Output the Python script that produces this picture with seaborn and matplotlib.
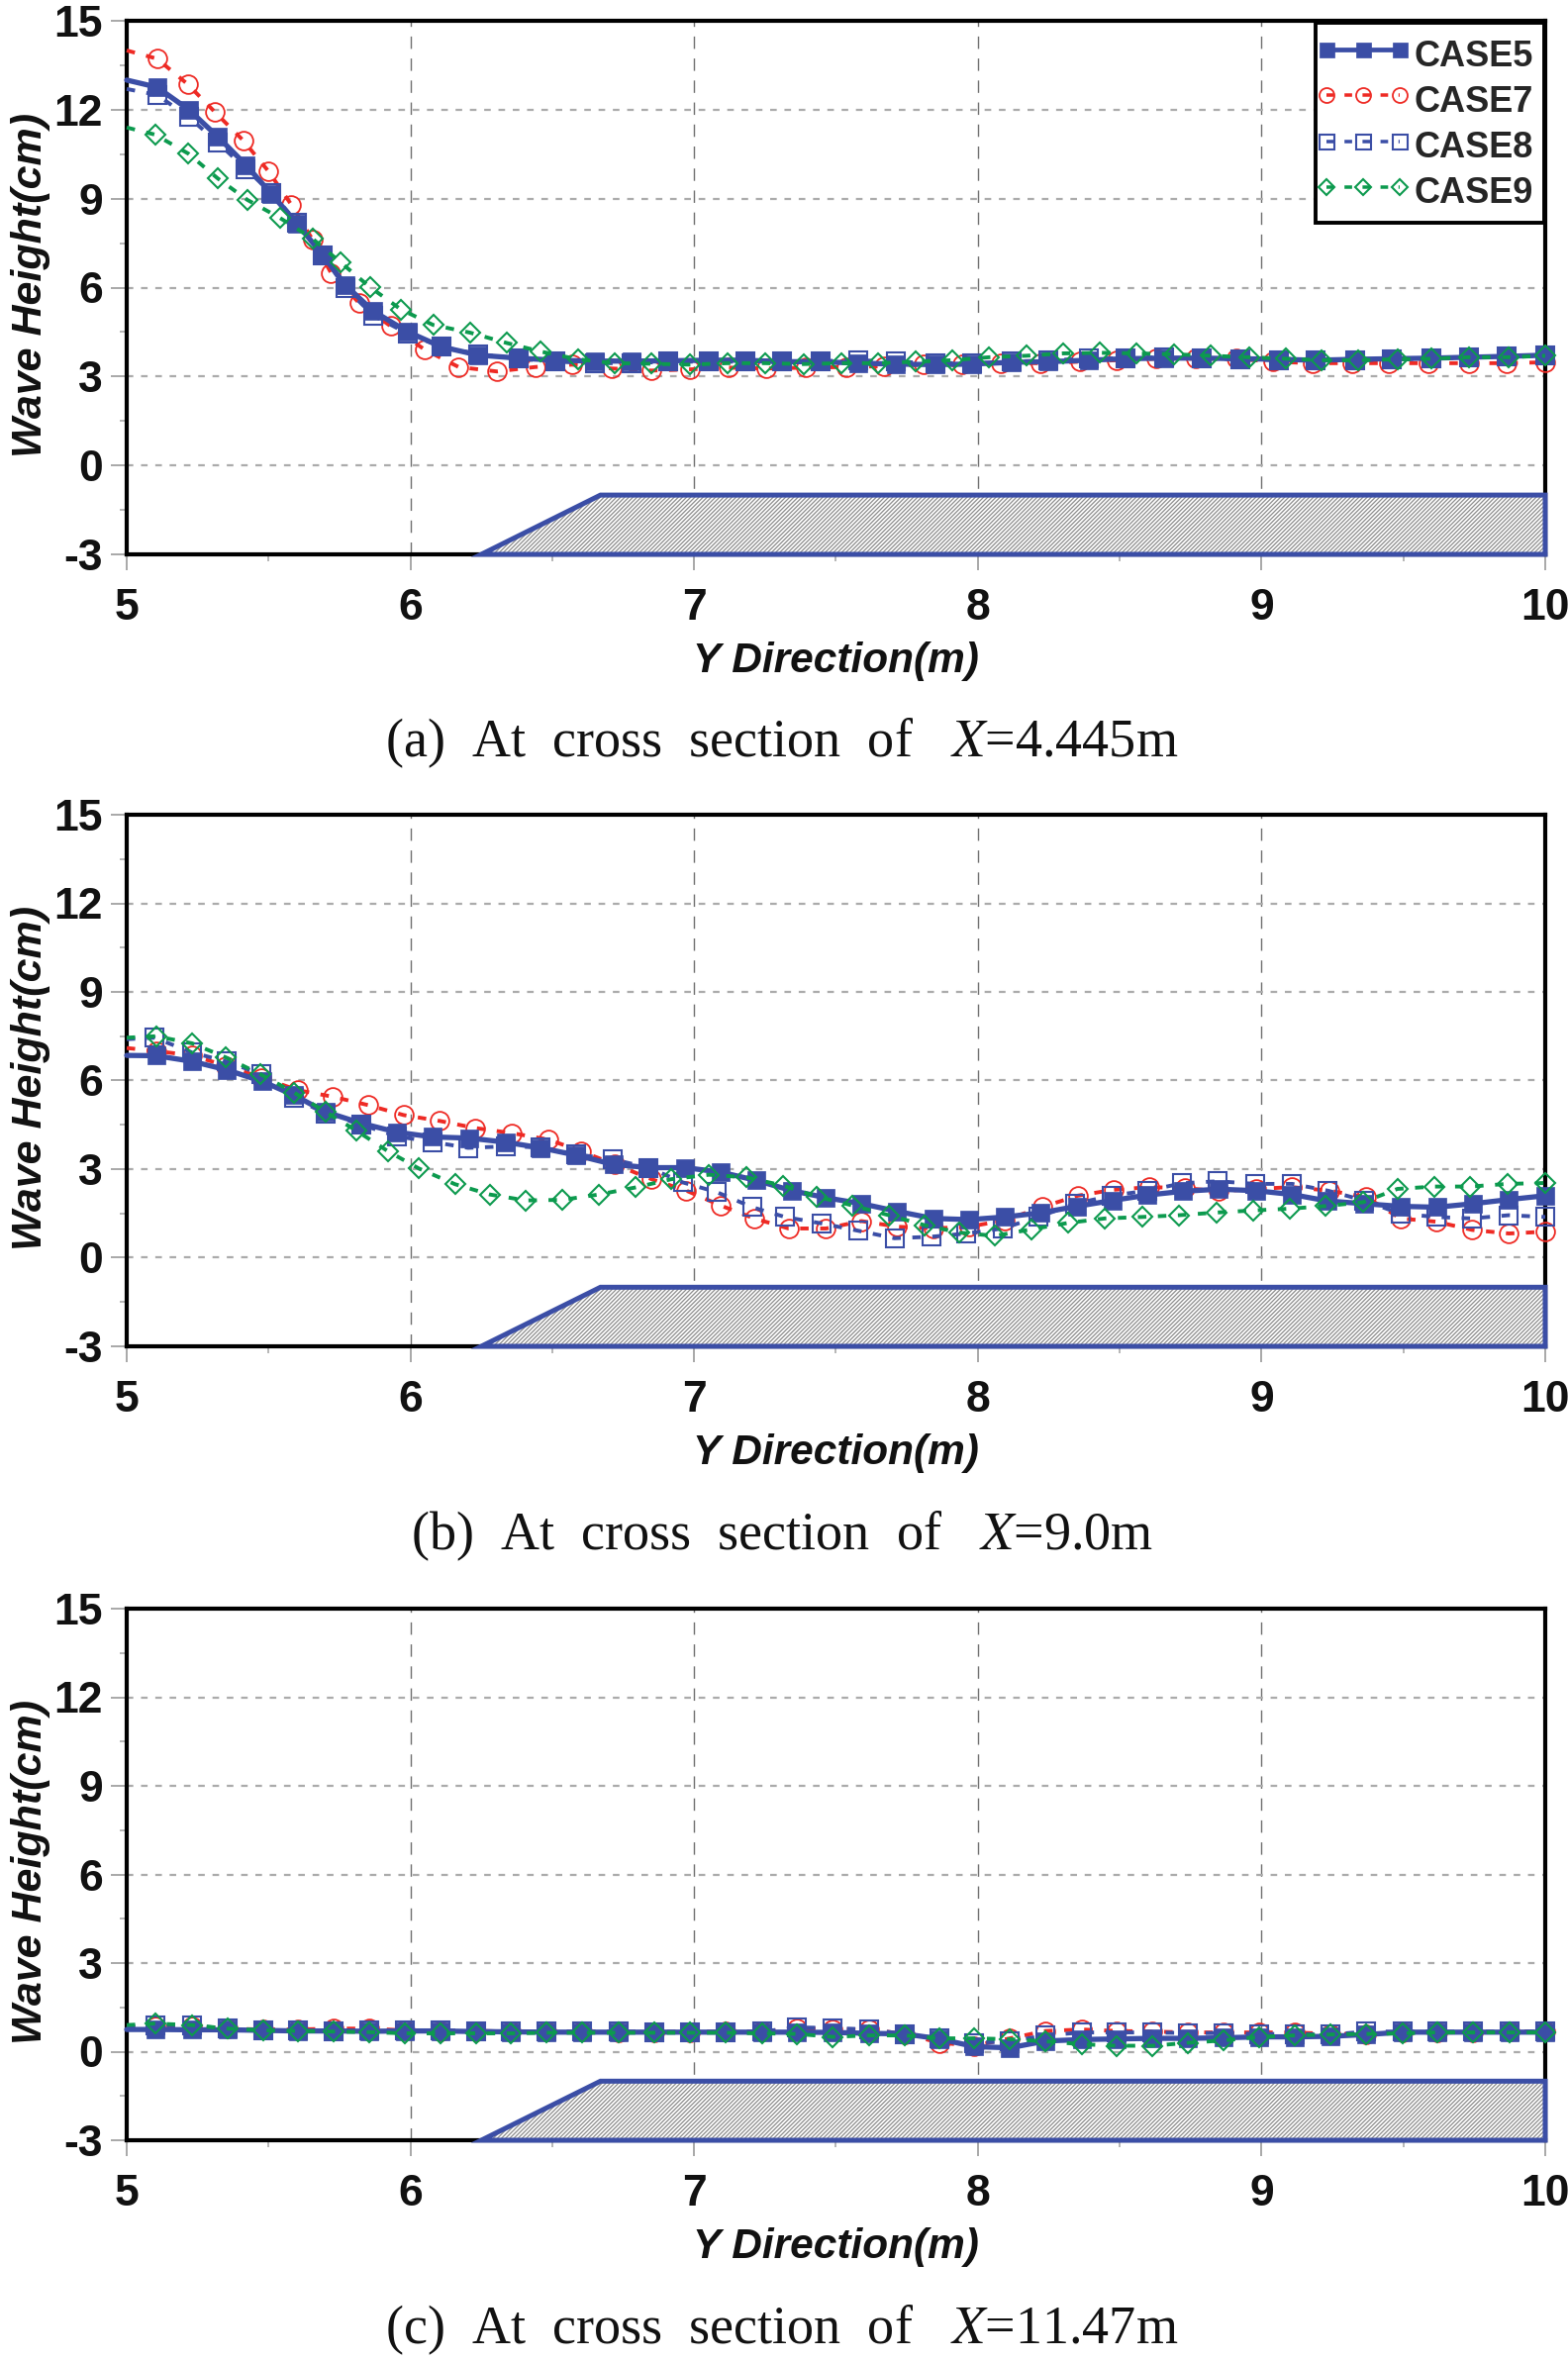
import matplotlib
matplotlib.use("Agg")
import matplotlib.pyplot as plt
from matplotlib.lines import Line2D
from matplotlib.legend_handler import HandlerLine2D
import seaborn as sns

sns.set_theme(style="white")
plt.rcParams["font.family"] = ["Liberation Sans", "DejaVu Sans"]
plt.rcParams["mathtext.fontset"] = "stix"
plt.rcParams["hatch.linewidth"] = 0.9
plt.rcParams["axes.unicode_minus"] = False

CASES = ["CASE5", "CASE7", "CASE8", "CASE9"]
XTICKS = [5, 6, 7, 8, 9, 10]
YTICKS = [-3, 0, 3, 6, 9, 12, 15]
XMINOR = [5.5, 6.5, 7.5, 8.5, 9.5]
YMINOR = [-1.5, 1.5, 4.5, 7.5, 10.5, 13.5]
SHOAL_X = [6.25, 6.67, 10, 10]
SHOAL_Y = [-3, -1, -1, -3]
CAPTIONS = ["(a)  At  cross  section  of   $X$=4.445m",
            "(b)  At  cross  section  of   $X$=9.0m",
            "(c)  At  cross  section  of   $X$=11.47m"]

# Panel (a)
xa5 = [5.0, 5.107,5.219,5.32,5.42,5.51,5.60,5.69,5.77,5.87,5.99,6.11,6.24,6.38,6.51,6.65,6.78,6.91,7.05,7.18,
       7.31,7.445,7.58,7.71,7.85,7.98,8.12,8.25,8.39,8.52,8.655,8.79,8.925,9.06,9.19,9.33,9.46,9.6,9.73,9.865,10]
ya5 = [13.0, 12.76,12.0,11.1,10.14,9.16,8.16,7.11,6.09,5.2,4.51,4.0,3.72,3.62,3.55,3.52,3.52,3.53,3.55,3.55,
       3.5,3.5,3.45,3.42,3.4,3.42,3.48,3.5,3.55,3.6,3.62,3.62,3.6,3.58,3.55,3.58,3.6,3.62,3.65,3.68,3.72]
ya8 = [12.7, 12.5,11.75,10.9,10.0,9.2,8.2,7.1,6.0,5.05,4.45,4.0,3.75,3.6,3.5,3.45,3.45,3.5,3.5,3.5,
       3.5,3.52,3.55,3.5,3.45,3.45,3.5,3.55,3.6,3.62,3.65,3.62,3.58,3.55,3.55,3.55,3.58,3.6,3.65,3.68,3.7]
xa7 = [5.0, 5.107,5.215,5.31,5.41,5.50,5.58,5.655,5.72,5.82,5.93,6.05,6.17,6.305,6.44,6.57,6.71,6.85,6.985,7.12,
       7.255,7.395,7.535,7.67,7.81,7.945,8.08,8.22,8.36,8.49,8.63,8.77,8.91,9.04,9.18,9.32,9.45,9.59,9.73,9.863,10]
ya7 = [14.0, 13.72,12.86,11.93,10.97,9.92,8.8,7.62,6.5,5.47,4.7,3.91,3.32,3.17,3.32,3.4,3.27,3.2,3.24,3.3,
       3.27,3.3,3.32,3.35,3.4,3.4,3.45,3.45,3.5,3.55,3.6,3.6,3.6,3.5,3.45,3.45,3.45,3.45,3.45,3.45,3.48]
xa9 = [5.0, 5.10,5.217,5.32,5.425,5.54,5.655,5.755,5.857,5.967,6.08,6.21,6.34,6.46,6.59,6.72,6.85,6.985,7.117,
       7.25,7.385,7.52,7.65,7.78,7.91,8.04,8.17,8.30,8.43,8.56,8.69,8.82,8.955,9.085,9.21,9.34,9.48,9.6,9.73,9.87,10]
ya9 = [11.4, 11.16,10.52,9.69,8.96,8.35,7.65,6.84,6.02,5.26,4.74,4.48,4.13,3.84,3.58,3.45,3.43,3.4,3.45,
       3.45,3.42,3.45,3.45,3.5,3.55,3.65,3.7,3.78,3.8,3.78,3.75,3.7,3.65,3.6,3.55,3.55,3.58,3.6,3.65,3.65,3.7]

# Panel (b)
xb5 = [5.0, 5.103,5.23,5.353,5.478,5.59,5.70,5.828,5.953,6.077,6.207,6.336,6.46,6.585,6.715,6.84,6.968,7.093,7.218,
       7.345,7.465,7.59,7.716,7.843,7.97,8.096,8.222,8.349,8.475,8.597,8.724,8.85,8.98,9.108,9.234,9.361,9.489,9.618,9.746,9.872,10.0]
yb5 = [6.85, 6.84,6.65,6.36,5.97,5.5,4.94,4.55,4.25,4.09,4.05,3.91,3.72,3.47,3.16,3.05,3.05,2.9,2.62,
       2.27,2.03,1.83,1.57,1.33,1.29,1.38,1.52,1.74,1.94,2.12,2.25,2.32,2.27,2.14,1.92,1.83,1.74,1.71,1.83,1.97,2.1]
xb7 = [5.0, 5.103,5.23,5.35,5.475,5.605,5.727,5.85,5.976,6.104,6.229,6.357,6.487,6.603,6.72,6.85,6.973,7.093,7.212,7.333,
       7.465,7.59,7.716,7.843,7.97,8.096,8.228,8.352,8.478,8.604,8.731,8.85,8.98,9.108,9.24,9.37,9.489,9.616,9.743,9.872,10.0]
yb7 = [7.1, 7.0,6.85,6.5,6.1,5.67,5.45,5.17,4.83,4.63,4.39,4.22,4.0,3.6,3.16,2.66,2.27,1.77,1.33,0.99,
       0.99,1.24,1.05,0.99,1.05,1.27,1.72,2.1,2.3,2.39,2.36,2.25,2.33,2.39,2.27,2.05,1.33,1.22,0.94,0.82,0.88]
xb8 = [5.0, 5.098,5.23,5.353,5.473,5.589,5.70,5.828,5.953,6.077,6.203,6.336,6.46,6.585,6.713,6.84,6.96,7.08,7.205,7.32,
       7.45,7.58,7.706,7.836,7.96,8.087,8.213,8.344,8.47,8.597,8.72,8.846,8.977,9.108,9.234,9.361,9.489,9.616,9.741,9.872,10.0]
yb8 = [7.4, 7.45,6.95,6.64,6.22,5.41,4.89,4.5,4.11,3.92,3.72,3.77,3.74,3.5,3.33,3.05,2.55,2.22,1.71,1.38,
       1.16,0.91,0.66,0.71,0.82,0.99,1.38,1.83,2.1,2.27,2.52,2.59,2.5,2.5,2.27,1.94,1.49,1.38,1.33,1.44,1.38]
xb9 = [5.0, 5.103,5.23,5.35,5.47,5.59,5.70,5.81,5.92,6.03,6.157,6.28,6.407,6.536,6.664,6.794,6.92,7.053,7.185,7.315,
       7.433,7.558,7.686,7.813,7.935,8.06,8.188,8.319,8.448,8.579,8.71,8.841,8.969,9.099,9.227,9.358,9.479,9.608,9.736,9.867,10.0]
yb9 = [7.45, 7.5,7.26,6.78,6.22,5.59,4.94,4.3,3.61,3.02,2.49,2.14,1.94,1.96,2.14,2.38,2.66,2.81,2.72,2.44,
       2.07,1.77,1.44,1.1,0.85,0.74,0.96,1.18,1.33,1.38,1.44,1.53,1.6,1.66,1.75,1.88,2.33,2.41,2.41,2.5,2.53]

# Panel (c)
xc = [5.0, 5.10,5.23,5.355,5.48,5.605,5.73,5.855,5.98,6.105,6.23,6.355,6.48,6.605,6.735,6.86,6.985,7.11,7.24,
      7.363,7.489,7.616,7.742,7.866,7.988,8.113,8.239,8.366,8.489,8.616,8.742,8.867,8.991,9.117,9.244,9.37,9.496,9.621,9.747,9.873,10]
yc5 = [0.75, 0.75,0.74,0.74,0.72,0.7,0.7,0.69,0.7,0.7,0.68,0.67,0.66,0.66,0.66,0.66,0.66,0.66,0.66,
       0.66,0.65,0.62,0.6,0.43,0.17,0.13,0.36,0.41,0.43,0.45,0.45,0.47,0.5,0.5,0.52,0.58,0.66,0.66,0.66,0.66,0.66]
yc7 = [0.8, 0.85,0.85,0.78,0.75,0.75,0.78,0.78,0.72,0.7,0.7,0.68,0.68,0.68,0.67,0.67,0.67,0.68,0.68,
       0.8,0.75,0.75,0.6,0.3,0.2,0.45,0.7,0.75,0.7,0.68,0.65,0.65,0.65,0.65,0.6,0.6,0.65,0.65,0.65,0.68,0.68]
yc8 = [0.85, 0.9,0.88,0.78,0.72,0.72,0.7,0.72,0.72,0.72,0.7,0.68,0.68,0.68,0.68,0.67,0.67,0.67,0.68,
       0.82,0.8,0.75,0.6,0.45,0.3,0.35,0.55,0.65,0.65,0.65,0.63,0.63,0.6,0.6,0.58,0.68,0.68,0.68,0.68,0.68,0.68]
yc9 = [0.9, 0.95,0.9,0.78,0.72,0.7,0.68,0.66,0.62,0.62,0.62,0.62,0.64,0.64,0.64,0.64,0.64,0.64,0.62,
       0.6,0.5,0.55,0.55,0.45,0.45,0.42,0.35,0.25,0.2,0.2,0.3,0.38,0.5,0.55,0.58,0.6,0.62,0.65,0.65,0.65,0.65]

PANELS = [
    {"CASE5": (xa5, ya5), "CASE7": (xa7, ya7), "CASE8": (xa5, ya8), "CASE9": (xa9, ya9)},
    {"CASE5": (xb5, yb5), "CASE7": (xb7, yb7), "CASE8": (xb8, yb8), "CASE9": (xb9, yb9)},
    {"CASE5": (xc, yc5), "CASE7": (xc, yc7), "CASE8": (xc, yc8), "CASE9": (xc, yc9)},
]

BLUE, RED, GREEN = "#3B4EA6", "#EE2A24", "#0C9A4E"
DASH = (0, (2.2, 3.0))
STYLES = {
    "CASE5": dict(color=BLUE, linewidth=3.8, linestyle="-", marker="s", markersize=13.5,
                  markerfacecolor=BLUE, markeredgecolor=BLUE, markeredgewidth=0.5),
    "CASE7": dict(color=RED, linewidth=2.8, linestyle=DASH, marker="o", markersize=13.5,
                  markerfacecolor="none", markeredgecolor=RED, markeredgewidth=1.3),
    "CASE8": dict(color=BLUE, linewidth=2.8, linestyle=DASH, marker="s", markersize=13.5,
                  markerfacecolor="none", markeredgecolor=BLUE, markeredgewidth=1.5),
    "CASE9": dict(color=GREEN, linewidth=2.8, linestyle=DASH, marker="D", markersize=10.5,
                  markerfacecolor="none", markeredgecolor=GREEN, markeredgewidth=1.5),
}
DRAW_ORDER = ["CASE7", "CASE8", "CASE5", "CASE9"]

W, H = 1584, 2385
fig = plt.figure(figsize=(W / 100, H / 100), dpi=100, facecolor="white")
AX_L, AX_R = 128, 1561
TOPS = [21, 823, 1625]
BOTS = [560, 1360, 2162]
CAP_Y = [751, 1552, 2354]

for i, data in enumerate(PANELS):
    ax = fig.add_axes([AX_L / W, 1 - BOTS[i] / H, (AX_R - AX_L) / W, (BOTS[i] - TOPS[i]) / H])
    ax.set_xlim(5, 10)
    ax.set_ylim(-3, 15)
    ax.set_axisbelow(True)
    ax.set_xticks(XTICKS)
    ax.set_yticks(YTICKS)
    ax.set_xticks(XMINOR, minor=True)
    ax.set_yticks(YMINOR, minor=True)
    ax.grid(False)
    ax.grid(True, axis="y", which="major", color="#ABABAB", linestyle=(0, (3, 3.5)), linewidth=1.6)
    ax.grid(True, axis="x", which="major", color="#707070", linestyle=(0, (9, 7)), linewidth=1.0)
    ax.tick_params(which="major", direction="out", length=11.5, width=1.2, color="#999999", pad=6,
                   left=True, bottom=True)
    ax.tick_params(which="minor", direction="out", length=5, width=1.2, color="#AAAAAA",
                   left=True, bottom=True)
    ax.tick_params(axis="x", which="major", pad=13)
    for lab in ax.get_xticklabels() + ax.get_yticklabels():
        lab.set_fontsize(32)
        lab.set_fontweight("bold")
        lab.set_color("#111111")
    for s in ax.spines.values():
        s.set_color("black")
        s.set_linewidth(3.0)
        s.set_visible(True)

    ax.fill(SHOAL_X, SHOAL_Y, facecolor="white", edgecolor="#8C8C8C", hatch="////////", linewidth=0, zorder=3)
    ax.fill(SHOAL_X, SHOAL_Y, fill=False, edgecolor=BLUE, linewidth=3.6, zorder=3.5,
            joinstyle="miter", clip_on=False)

    for k, case in enumerate(DRAW_ORDER):
        x, y = data[case]
        sns.lineplot(x=x, y=y, ax=ax, estimator=None, sort=False, legend=False,
                     markevery=slice(1, None), clip_on=False, zorder=4 + k, **STYLES[case])

    ax.set_xlabel("Y Direction(m)", fontsize=30.5, fontweight="bold", fontstyle="italic", color="#111111")
    ax.set_ylabel("Wave Height(cm)", fontsize=31, fontweight="bold", fontstyle="italic", color="#111111")
    span = BOTS[i] - TOPS[i]
    ax.xaxis.set_label_coords(0.5, -(668 - 560) / span, transform=ax.transAxes)
    ax.xaxis.label.set_verticalalignment("center")
    ax.yaxis.set_label_coords((31 - AX_L) / (AX_R - AX_L), 0.505, transform=ax.transAxes)
    ax.yaxis.label.set_verticalalignment("center")

    fig.text(790 / W, 1 - CAP_Y[i] / H, CAPTIONS[i], ha="center", va="center",
             family=["Liberation Serif"], fontsize=39, color="#111111")

    if i == 0:
        handles = [Line2D([], [], label=c, **{**STYLES[c],
                   "markersize": STYLES[c]["markersize"] * 0.8,
                   "linewidth": STYLES[c]["linewidth"] * 0.9}) for c in CASES]
        leg = ax.legend(handles=handles, loc="upper right", bbox_to_anchor=(1 - 1 / (AX_R - AX_L), 1 - 2 / span),
                        borderaxespad=0, numpoints=3, handlelength=2.05, handletextpad=0.4,
                        handleheight=1.39, labelspacing=0.13, borderpad=0.3, frameon=True, fancybox=False,
                        framealpha=1, edgecolor="black", facecolor="white",
                        handler_map={Line2D: HandlerLine2D(marker_pad=0.0, numpoints=3)},
                        prop={"size": 26, "weight": "bold", "family": "Liberation Sans"})
        leg.get_frame().set_linewidth(2.8)
        leg.set_zorder(20)

fig.savefig("out.png", dpi=100, facecolor="white")
